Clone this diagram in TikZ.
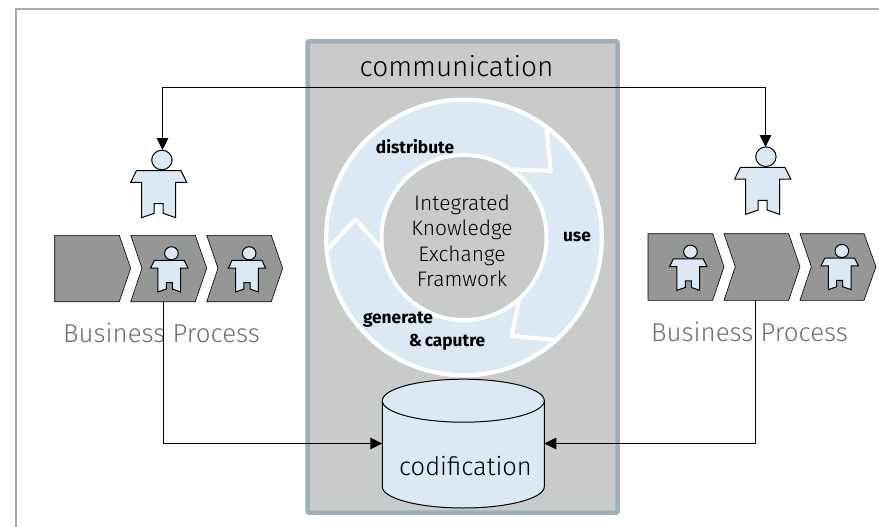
\documentclass[tikz,border=0pt]{standalone}
\usepackage{fontspec}
\setmainfont{Fira Sans}
\newfontfamily\lightf{Fira Sans Light}
\usetikzlibrary{arrows.meta}
\definecolor{panelfill}{HTML}{C9CBCA}
\definecolor{panelline}{HTML}{9FAFBA}
\definecolor{paleblue}{HTML}{DCE9F4}
\definecolor{chevgray}{HTML}{949796}
\definecolor{framegray}{HTML}{ABABAB}
\definecolor{captiongray}{HTML}{6C6F6F}
\tikzset{
  chev/.style={fill=chevgray,draw=black,line width=0.6pt,line join=miter},
  conn/.style={draw=black,line width=1pt,-{Triangle[length=12pt,width=11.5pt]}},
  sep/.style={draw=white,line width=4pt,line join=round,line cap=round},
  caption/.style={font=\lightf\fontsize{25.9}{30}\selectfont,text=captiongray,inner sep=0pt},
  bigtext/.style={font=\lightf\fontsize{28}{32}\selectfont,text=black,inner sep=0pt},
  codtext/.style={font=\lightf\fontsize{25.5}{30}\selectfont,text=black,inner sep=0pt},
  boldlabel/.style={font=\bfseries\fontsize{17.3}{20}\selectfont,text=black,inner sep=0pt},
  centertext/.style={font=\lightf\fontsize{21}{25.5}\selectfont,text=black,inner sep=0pt,align=center},
  pics/person/.style={code={
    \draw[fill=paleblue,draw=black,line width=1pt,line join=miter]
      (-22.3,10.7)--(22.3,10.7)--(28,22.3)--(17,22.3)--(17,57.7)--(4.5,53.3)--(4.5,43.7)--(-4.5,43.7)--(-4.5,53.3)--(-17,57.7)--(-17,22.3)--(-28,22.3)--cycle;
    \draw[fill=paleblue,draw=black,line width=1pt] (3.2,0) ellipse [x radius=10.2,y radius=9.8];
  }}
}
\begin{document}
\begin{tikzpicture}[x=1pt,y=-1pt]
\useasboundingbox (0,0) rectangle (879,527);
% frame
\draw[framegray,line width=2pt] (16,527)--(16,9.5)--(879,9.5);
% panel
\draw[fill=panelfill,draw=panelline,line width=4.5pt,rounded corners=1pt] (307.5,41.5) rectangle (617.5,512.5);
\node[bigtext] (comm) at (456.5,66) {communication};
% ring
\fill[white] (464,237.5) circle [radius=140];
\fill[paleblue] (464,237.5) circle [radius=135.7];
\draw[sep] (546.7,128.3)--(550.7,171)--(510,169.3);
\draw[sep] (556.7,340)--(511.7,336)--(520,295);
\draw[sep] (326.7,250)--(355.7,219.3)--(381.7,249.3);
\fill[white] (464,237.5) circle [radius=84.5];
\fill[panelfill] (464,237.5) circle [radius=80.5];
\node[centertext] (core) at (462,241) {Integrated\\Knowledge\\Exchange\\Framwork};
\node[boldlabel] (dist) at (415,147) {distribute};
\node[boldlabel] (use) at (577,236.5) {use};
\node[boldlabel] (gen) at (398,320) {generate};
\node[boldlabel] (capt) at (447,342) {\&\,caputre};
% left chevrons
\draw[chev] (54.7,235.3)--(119.3,235.3)--(130.7,268.3)--(119.3,301.7)--(54.7,301.7)--cycle;
\draw[chev] (130.7,235.3)--(195.3,235.3)--(206.7,268.3)--(195.3,301.7)--(130.7,301.7)--(142,268.3)--cycle;
\draw[chev] (206.7,235.3)--(271.3,235.3)--(282.7,268.3)--(271.3,301.7)--(206.7,301.7)--(218,268.3)--cycle;
% right chevrons
\draw[chev] (648,233.7)--(712.7,233.7)--(724,266.7)--(712.7,300.3)--(648,300.3)--cycle;
\draw[chev] (724,233.7)--(788.7,233.7)--(800,266.7)--(788.7,300.3)--(724,300.3)--(735.3,266.7)--cycle;
\draw[chev] (800,233.7)--(864,233.7)--(876,266.7)--(864,300.3)--(800,300.3)--(811.3,266.7)--cycle;
% persons
\pic at (158.7,160) {person};
\pic at (762.7,156.7) {person};
\pic[scale=0.67] at (169.3,253.3) {person};
\pic[scale=0.67] at (247,253.3) {person};
\pic[scale=0.67] at (688.3,251.7) {person};
\pic[scale=0.67] at (839.7,251) {person};
% captions
\node[caption] (bpl) at (161.5,332.5) {Business Process};
\node[caption] (bpr) at (749.5,332) {Business Process};
% cylinder
\draw[fill=paleblue,draw=black,line width=1pt] (382.3,400.7)--(382.3,486.7) .. controls (382.3,498.3) and (418,508) .. (463.3,508) .. controls (508,508) and (544.3,498.3) .. (544.3,486.7)--(544.3,400.7);
\draw[fill=paleblue,draw=black,line width=1pt] (463.3,400.7) ellipse [x radius=81,y radius=21.5];
\node[codtext] (cod) at (465.5,466.5) {codification};
% connector ends
\coordinate (headL) at (162.5,150);
\coordinate (headR) at (765.5,147);
\coordinate (chevL) at (163.5,301.7);
\coordinate (chevR) at (755.5,300.3);
\coordinate (dbL) at (382.3,443.5);
\coordinate (dbR) at (544.3,443.5);
\coordinate (topL) at (162.5,87.5);
\coordinate (topR) at (765.5,87.5);
% connectors
\draw[conn,{Triangle[length=12pt,width=11.5pt]}-{Triangle[length=12pt,width=11.5pt]}] (headL)--(topL)--(topR)--(headR);
\draw[conn] (chevL)|-(dbL);
\draw[conn] (chevR)|-(dbR);
\end{tikzpicture}
\end{document}
